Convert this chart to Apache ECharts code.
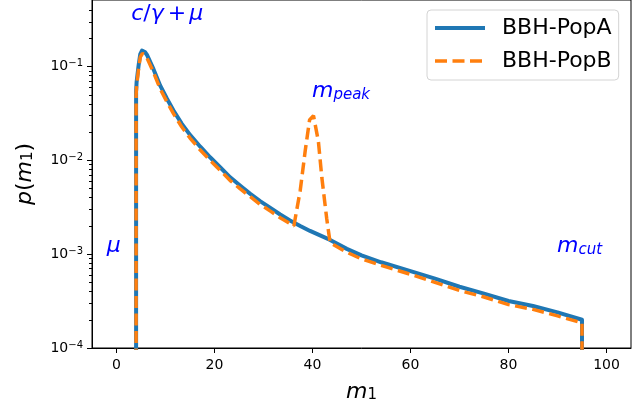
<!DOCTYPE html>
<html>
<head>
<meta charset="utf-8">
<script src="https://cdn.jsdelivr.net/npm/echarts@6/dist/echarts.min.js"></script>
<style>
  html, body { margin: 0; padding: 0; background: #fff; }
  #chart { width: 644px; height: 409px; }
</style>
</head>
<body>
<div id="chart"></div>
<script>
// primary mass m1 and density p(m1) (1e-6 stands for zero)
const popAx = [4, 4, 4.1, 4.5, 4.85, 5.2, 5.8, 6.2, 7.55, 8.9, 10.3, 11.6, 13.3, 15.0, 17.1, 19.1, 21.2, 23.2, 25.2, 27.3, 29.3, 31.4, 33.4, 35.4, 37.5, 39.5, 43.6, 47, 50, 54, 60, 65, 70, 75, 80, 85, 90, 95, 95];
const popAy = [1e-6, 0.054, 0.068, 0.102, 0.136, 0.148, 0.143, 0.134, 0.094, 0.063, 0.0455, 0.0343, 0.0247, 0.0187, 0.0140, 0.0108, 0.0084, 0.0066, 0.0054, 0.0044, 0.00368, 0.00312, 0.00265, 0.00229, 0.00200, 0.00177, 0.00142, 0.00114, 0.00097, 0.00082, 0.00066, 0.00055, 0.00045, 0.00038, 0.000317, 0.00028, 0.00024, 0.0002, 1e-6];

const popBx = [4, 4, 4.1, 4.5, 4.85, 5.3, 5.8, 6.2, 7.55, 8.9, 10.3, 11.6, 13.3, 15.0, 17.1, 19.1, 21.2, 23.2, 25.2, 27.3, 29.3, 31.4, 33.4, 35.4, 36.2, 37.5, 38.5, 39.4, 40.2, 41.2, 41.9, 42.9, 43.6, 47, 50, 54, 60, 65, 70, 75, 80, 85, 90, 95, 95];
const popBy = [1e-6, 0.050, 0.062, 0.094, 0.126, 0.138, 0.134, 0.124, 0.087, 0.058, 0.042, 0.0317, 0.0228, 0.0173, 0.0129, 0.0100, 0.0078, 0.0061, 0.0050, 0.0041, 0.0034, 0.00288, 0.00245, 0.00212, 0.00200, 0.0048, 0.0125, 0.027, 0.030, 0.016, 0.0066, 0.0024, 0.00132, 0.00105, 0.00089, 0.00076, 0.00061, 0.0005, 0.00041, 0.00035, 0.00029, 0.000258, 0.00022, 0.000185, 1e-6];

const seriesNames = ['BBH-PopA', 'BBH-PopB'];

// tick labels
const xTicks = [0, 20, 40, 60, 80, 100];
const yTicks = [1e-4, 1e-3, 1e-2, 1e-1];
const yMinorTicks = [2e-4, 3e-4, 4e-4, 5e-4, 6e-4, 7e-4, 8e-4, 9e-4,
  2e-3, 3e-3, 4e-3, 5e-3, 6e-3, 7e-3, 8e-3, 9e-3,
  2e-2, 3e-2, 4e-2, 5e-2, 6e-2, 7e-2, 8e-2, 9e-2,
  2e-1, 3e-1, 4e-1];
const yMin = 1e-4;
const yMax = 0.513;

// annotations (text, anchor in data coords)
const annotText = ['{i|c}{r|/}{i|γ}{o|+}{i|μ}', '{i|m}{s|peak}', '{i|μ}', '{i|m}{s|cut}'];
const annotX = [3.1, 40, -1.9, 90];
const annotY = [0.3, 0.045, 0.001, 0.001];

const FONT = 'DejaVu Sans';
const mathRich = {
  i: { fontFamily: FONT, fontStyle: 'italic', fontSize: 22, lineHeight: 22, color: '#0000ff' },
  r: { fontFamily: FONT, fontSize: 22, lineHeight: 22, color: '#0000ff' },
  o: { fontFamily: FONT, fontSize: 22, lineHeight: 22, color: '#0000ff', padding: [0, 3, 0, 4] },
  s: { fontFamily: FONT, fontStyle: 'italic', fontSize: 15, lineHeight: 12, verticalAlign: 'bottom', color: '#0000ff' }
};
const nameRich = {
  i: { fontFamily: FONT, fontStyle: 'italic', fontSize: 22, lineHeight: 22, color: '#000' },
  r: { fontFamily: FONT, fontSize: 22, lineHeight: 22, color: '#000' },
  s: { fontFamily: FONT, fontSize: 15, lineHeight: 12, verticalAlign: 'bottom', color: '#000' }
};

const chart = echarts.init(document.getElementById('chart'), null, { renderer: 'canvas' });

const pairs = (xs, ys) => xs.map((x, k) => [x, ys[k]]);
const gridBox = { left: 92, right: 13, top: -3, bottom: 61 };
const noMarker = { color: 'rgba(0,0,0,0)', borderWidth: 0, opacity: 0 };
const minorDecades = yMinorTicks.map(Math.log10);

const option = {
  animation: false,
  backgroundColor: '#fff',
  grid: [
    Object.assign({ show: true, borderColor: '#000', borderWidth: 1 }, gridBox),
    Object.assign({ show: false }, gridBox)   // twin grid: decade-space axis for the minor ticks
  ],
  legend: {
    orient: 'vertical',
    left: 427,
    top: 10,
    padding: [7, 7, 8, 6],
    itemWidth: 50,
    itemHeight: 14,
    itemGap: 11,
    backgroundColor: 'rgba(255,255,255,0.8)',
    borderColor: '#d4d4d4',
    borderWidth: 1,
    borderRadius: 4,
    textStyle: { fontFamily: FONT, fontSize: 22, lineHeight: 22, color: '#000', padding: [0, 0, 0, 12] },
    data: [
      { name: seriesNames[0], itemStyle: noMarker, lineStyle: { width: 4 } },
      { name: seriesNames[1], itemStyle: noMarker, lineStyle: { width: 3.5 } }
    ]
  },
  xAxis: [{
    type: 'value',
    min: -5,
    max: 105,
    name: '{i|m}{s|1}',
    nameLocation: 'middle',
    nameGap: 33,
    nameTextStyle: { rich: nameRich },
    axisLine: { onZero: false, lineStyle: { color: '#000', width: 1 } },
    axisTick: { customValues: xTicks, length: 5, lineStyle: { color: '#000' } },
    axisLabel: { customValues: xTicks, margin: 10, fontFamily: FONT, fontSize: 14, color: '#000' },
    splitLine: { show: false }
  }, {
    gridIndex: 1,
    type: 'value',
    min: -5,
    max: 105,
    axisLine: { show: false },
    axisTick: { show: false },
    axisLabel: { show: false },
    splitLine: { show: false }
  }],
  yAxis: [{
    type: 'log',
    logBase: 10,
    min: yMin,
    max: yMax,
    name: '{i|p}{r|(}{i|m}{s|1}{r|)}',
    nameLocation: 'middle',
    nameGap: 56,
    nameTextStyle: { rich: nameRich },
    axisLine: { onZero: false, lineStyle: { color: '#000', width: 1 } },
    axisTick: { customValues: yTicks, length: 5, lineStyle: { color: '#000' } },
    axisLabel: {
      customValues: yTicks,
      margin: 9,
      formatter: v => '{b|10}{e|−' + Math.round(-Math.log10(v)) + '}',
      rich: {
        b: { fontFamily: FONT, fontSize: 14, lineHeight: 16, color: '#000' },
        e: { fontFamily: FONT, fontSize: 10, lineHeight: 10, verticalAlign: 'top', color: '#000' }
      }
    },
    splitLine: { show: false }
  }, {
    // same span expressed in decades, so a linear axis carries the log minor ticks
    gridIndex: 1,
    type: 'value',
    min: Math.log10(yMin),
    max: Math.log10(yMax),
    position: 'left',
    axisLine: { show: true, onZero: false, lineStyle: { color: 'rgba(0,0,0,0)' } },
    axisTick: { show: true, inside: false, customValues: minorDecades, length: 3, lineStyle: { color: '#000', width: 1 } },
    axisLabel: { show: true, customValues: minorDecades, formatter: () => '' },
    splitLine: { show: false }
  }],
  series: [{
    name: seriesNames[0],
    type: 'line',
    data: pairs(popAx, popAy),
    showSymbol: false,
    symbol: 'none',
    clip: true,
    lineStyle: { color: '#1f77b4', width: 4, join: 'round', cap: 'butt' },
    itemStyle: { color: '#1f77b4' },
    z: 2
  }, {
    name: seriesNames[1],
    type: 'line',
    data: pairs(popBx, popBy),
    showSymbol: false,
    symbol: 'none',
    clip: true,
    lineStyle: { color: '#ff7f0e', width: 3.5, type: [12, 5.5], cap: 'butt' },
    itemStyle: { color: '#ff7f0e' },
    z: 3
  }, {
    name: 'annotations',
    type: 'scatter',
    silent: true,
    symbolSize: 1,
    itemStyle: { color: 'transparent' },
    data: annotX.map((x, k) => ({ value: [x, annotY[k]], label: { formatter: annotText[k] } })),
    label: {
      show: true,
      position: [0, 0],
      align: 'left',
      verticalAlign: 'bottom',
      offset: [0, 4],
      color: '#0000ff',
      textBorderWidth: 0,
      opacity: 1,
      rich: mathRich
    },
    emphasis: { disabled: true },
    z: 4
  }, {
    // empty series that binds the twin grid's axes
    name: 'minorTickHost',
    type: 'line',
    xAxisIndex: 1,
    yAxisIndex: 1,
    data: [],
    silent: true
  }]
};

chart.setOption(option);
</script>
</body>
</html>
